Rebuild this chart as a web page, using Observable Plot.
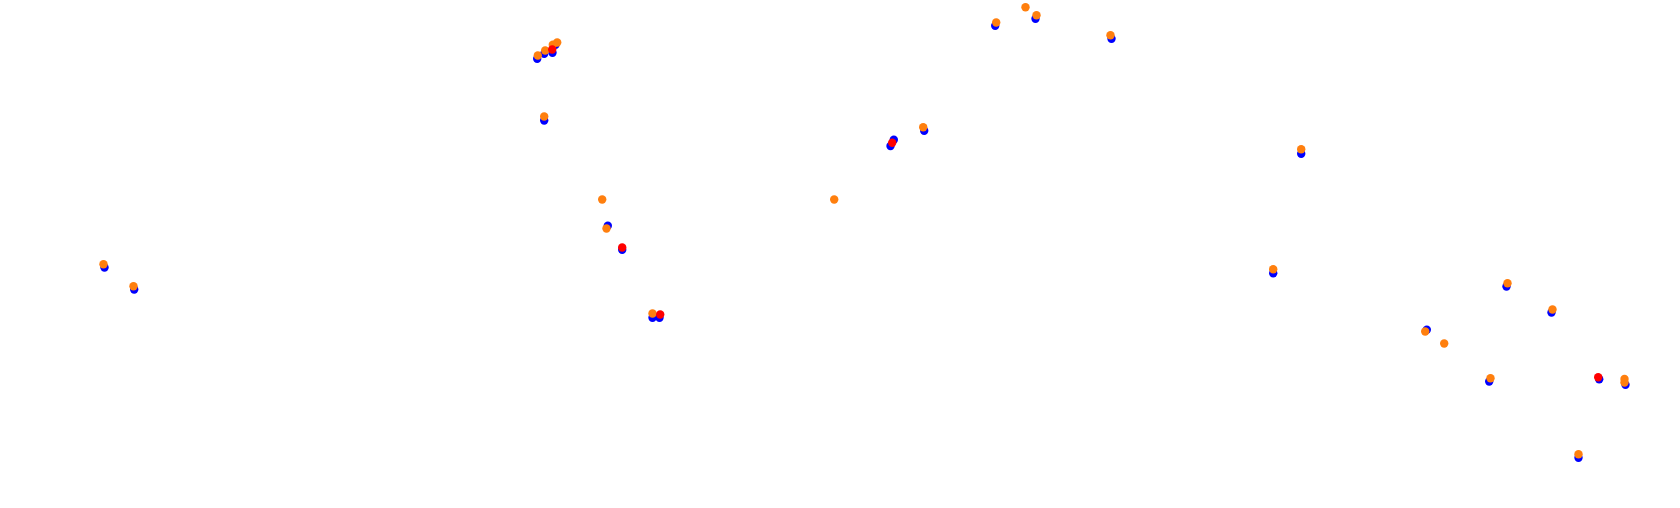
<!DOCTYPE html>
<html>
<head>
<meta charset="utf-8">
<script src="https://cdn.jsdelivr.net/npm/d3@7"></script>
<script src="https://cdn.jsdelivr.net/npm/@observablehq/plot@0.6"></script>
<style>
  html, body { margin: 0; padding: 0; background: #fff; overflow: hidden; }
  #chart svg { display: block; }
</style>
</head>
<body>
<div id="chart"></div>
<script>
// Series values (x, y measured downward from the top of the plot)
const blueX = [536.7, 543.7, 552, 555, 543.7, 607.3, 621.7, 1035, 994.7, 1111, 923.7, 893.3, 890, 1300.7, 104, 133.7, 652, 659, 1272.7, 1506, 1551, 1426.3, 1488.7, 1598.7, 1625, 1578];
const blueY = [58.3, 53.3, 52.3, 44.3, 120, 225.3, 249.3, 18.3, 25.3, 38.3, 130.3, 139.3, 145.5, 153.3, 267, 289, 317.3, 317.3, 272.7, 286, 312, 329.3, 381, 378.7, 384.3, 457.3];

const orangeX = [537.3, 544.7, 552.3, 556.7, 543.7, 601.7, 606, 833.7, 1025, 1036, 995.7, 1110, 922.7, 1300.7, 103, 133, 652, 1272.7, 1507, 1552, 1424.7, 1443.7, 1490, 1624, 1624, 1578];
const orangeY = [55, 50, 44.3, 42, 116, 199, 228, 199, 6.7, 14.7, 22, 34.7, 126.7, 148.7, 263.7, 285.7, 313, 268.7, 282.7, 309, 331, 343, 377.7, 378.5, 382, 453.7];

const redX = [551.7, 621.7, 891.7, 659.7, 1597.7];
const redY = [49, 247, 142.3, 314, 376.7];

const toRows = (xs, ys) => xs.map((x, i) => ({x, y: ys[i]}));
const blue = toRows(blueX, blueY);
const orange = toRows(orangeX, orangeY);
const red = toRows(redX, redY);

const chart = Plot.plot({
  width: 1680,
  height: 508,
  margin: 0,
  x: {domain: [0, 1680], axis: null},
  y: {domain: [0, 508], reverse: true, axis: null},
  marks: [
    Plot.dot(blue, {x: "x", y: "y", r: 4.2, fill: "#0000ff", stroke: "none"}),
    Plot.dot(orange, {x: "x", y: "y", r: 4.2, fill: "#ff7f0e", stroke: "none"}),
    Plot.dot(red, {x: "x", y: "y", r: 4.2, fill: "#ff0000", stroke: "none"})
  ]
});
document.getElementById("chart").appendChild(chart);
</script>
</body>
</html>
